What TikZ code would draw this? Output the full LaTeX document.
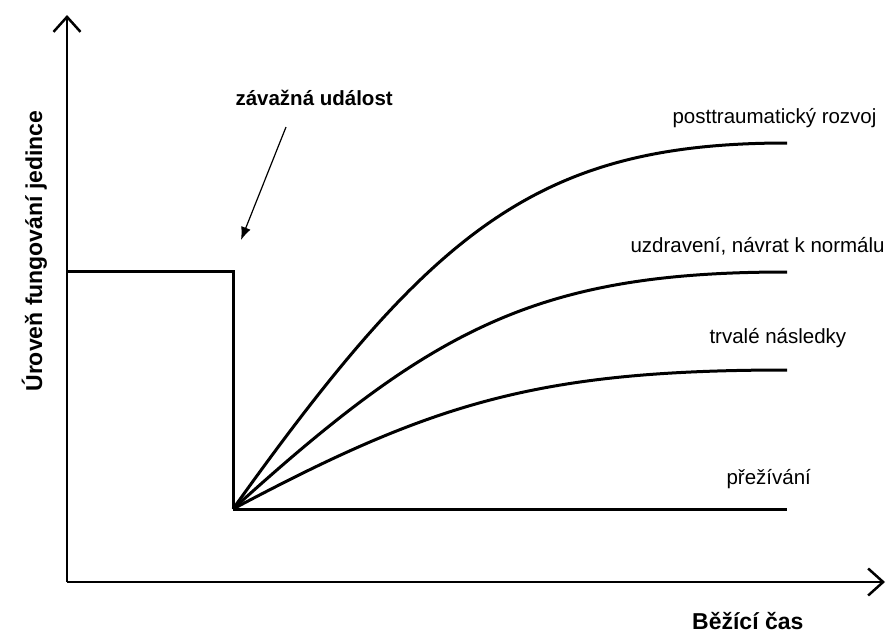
\documentclass[tikz,border=0pt]{standalone}
\usepackage{fontspec}
\setmainfont{Liberation Sans}
\usetikzlibrary{arrows.meta}
\newcommand\recline[5]{% name, rise, tag, tag x, tag base
\draw[curve] (drop) .. controls (433,509-0.765*#2) and (538,509-#2) .. (787,509-#2);
\node (#1) at (#4,#5) [anchor=base west] {#3};}

\begin{document}
\begin{tikzpicture}[x=1pt,y=-1pt,font=\fontsize{20.5}{24}\selectfont,
    axis/.style={line width=2.5pt,-{Straight Barb[length=15pt,width=27pt]}},
    curve/.style={line width=3pt},
    axislabel/.style={font=\fontsize{23}{27}\selectfont\bfseries}]
      \useasboundingbox (0,0) rectangle (886,637);
      \coordinate (origin) at (67,582);
      \coordinate (ytop) at (67,15);
      \coordinate (xend) at (885,582);
      \coordinate (drop) at (233,509);
      \draw[axis] (origin) -- (ytop);
      \draw[axis] (origin) -- (xend);
      \draw[curve,line join=miter] (67,271) -- (233,271) -- (drop);

      \node (level) at (42,251) [axislabel,rotate=90,anchor=base] {Úroveň fungování jedince};
      \node (time) at (691,629) [axislabel,anchor=base west,inner sep=1pt] {Běžící čas};
      \node (event) at (232,105) [anchor=base west] {\bfseries závažná událost};
      \coordinate (cue) at (286,127);
      \coordinate (hit) at (241,240);
      \draw[line width=1.2pt,-{Latex[length=13pt,width=10pt]}] (cue) -- (hit);

      \recline{growth}{366}{posttraumatický rozvoj}{669}{123}
      \recline{recovery}{237}{uzdravení, návrat k normálu}{627}{252}
      \recline{damage}{139}{trvalé následky}{706}{343}
      \recline{survival}{0}{přežívání}{723}{484}
    \end{tikzpicture}
\end{document}
